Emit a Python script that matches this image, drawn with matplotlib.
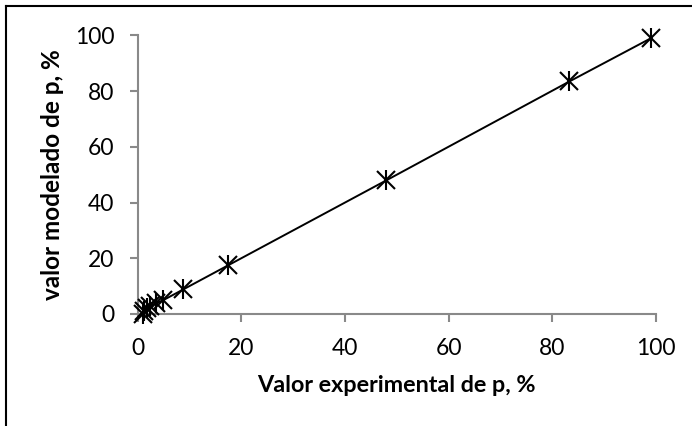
import matplotlib
matplotlib.use("Agg")
import matplotlib.pyplot as plt
from matplotlib.lines import Line2D

# data (experimental vs modelled p, %)
p_experimental = [1.0, 1.3, 1.8, 2.5, 3.5, 5.0, 8.8, 17.5, 48.0, 83.3, 99.0]
p_modelado = [0.0, 1.0, 2.0, 2.8, 3.8, 5.0, 8.8, 17.5, 48.0, 83.5, 99.0]
ticks = [0, 20, 40, 60, 80, 100]

plt.rcParams['font.family'] = ['Lato', 'DejaVu Sans']

fig = plt.figure(figsize=(6.92, 4.26), dpi=100)
ax = fig.add_axes([137.5 / 692, 1 - 314 / 426, (656 - 137.5) / 692, (314 - 35.5) / 426])

# line through the points, then the asterisk markers (x + vertical bar)
ax.plot(p_experimental, p_modelado, color='black', lw=1.4, zorder=2)
ax.plot(p_experimental, p_modelado, ls='none', marker='x', ms=12.5,
        mec='black', mew=1.5, zorder=3, clip_on=False)
ax.plot(p_experimental, p_modelado, ls='none', marker='|', ms=14,
        mec='black', mew=1.5, zorder=3, clip_on=False)

ax.set_xlim(0, 100)
ax.set_ylim(0, 100)
ax.set_xticks(ticks)
ax.set_yticks(ticks)

gray = '#898989'
for side in ['top', 'right']:
    ax.spines[side].set_visible(False)
for side in ['left', 'bottom']:
    ax.spines[side].set_color(gray)
    ax.spines[side].set_linewidth(1.5)
ax.tick_params(axis='both', direction='out', color=gray, width=1.5,
               length=5.5, labelsize=16.5, labelcolor='black')
ax.tick_params(axis='x', pad=12)
ax.tick_params(axis='y', pad=11)

ax.set_xlabel('Valor experimental de p, %', fontsize=16.8, fontweight='bold', labelpad=11)
ax.set_ylabel('valor modelado de p, %', fontsize=17.5, fontweight='bold')
ax.yaxis.set_label_coords((64 - 137.5) / 518.5, 0.5)

# outer chart frame (left and top edges visible)
fig.add_artist(Line2D([6 / 692, 6 / 692], [0, 1 - 6 / 426], color='black', lw=1.5))
fig.add_artist(Line2D([6 / 692, 1], [1 - 6 / 426, 1 - 6 / 426], color='black', lw=1.5))

fig.savefig('out.png', dpi=100)
